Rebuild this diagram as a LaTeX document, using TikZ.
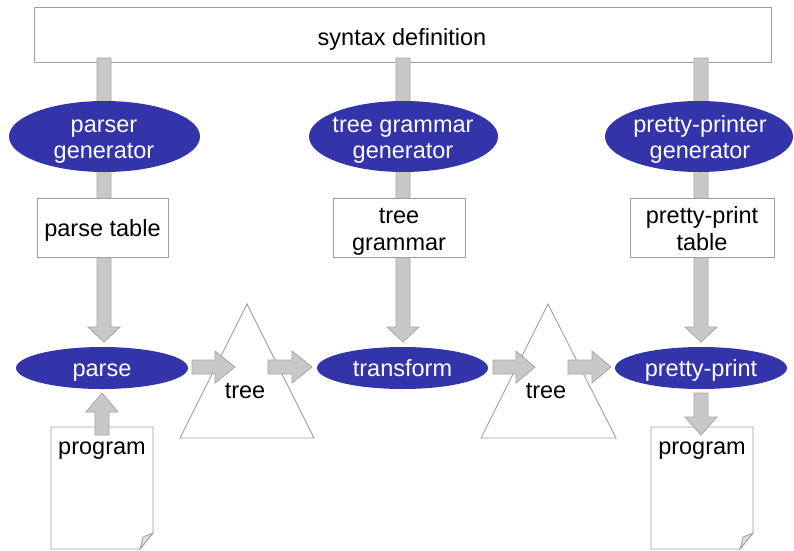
\documentclass[tikz,border=0pt]{standalone}
\usepackage{fontspec}
\setmainfont{Liberation Sans}
\usetikzlibrary{shapes.geometric}
\definecolor{ellblue}{HTML}{3333AA}
\definecolor{arrfill}{HTML}{C8C8C8}
\definecolor{arrline}{HTML}{A6A6A6}
\definecolor{boxline}{HTML}{A0A0A0}
\begin{document}
\begin{tikzpicture}[x=1pt,y=-1pt,
  every node/.style={font=\fontsize{23.5}{27}\selectfont},
  boxnode/.style={draw=boxline,fill=white,line width=0.9pt,inner sep=0pt},
  ellnode/.style={ellipse,fill=ellblue,inner sep=0pt},
  txt/.style={anchor=base,inner sep=0pt},
  wtxt/.style={anchor=base,inner sep=0pt,text=white},
  blockarrow/.style={fill=arrfill,draw=arrline,line width=0.8pt},
  plain/.style={draw=boxline,fill=white,line width=0.9pt},
  fold/.style={draw=boxline,fill=arrfill!60,line width=0.8pt}]
\useasboundingbox (0,0) rectangle (794,550);
% syntax definition box
\node[boxnode,minimum width=737pt,minimum height=55pt] (syn) at (402.5,34.5) {};
\node[txt] (syntxt) at (402,45) {syntax definition};
% triangles
\draw[plain] (247,304) -- (314,438) -- (180,438) -- cycle;
\node[txt] (tree1) at (245,398) {tree};
\draw[plain] (548,304) -- (616,438) -- (481,438) -- cycle;
\node[txt] (tree2) at (546,398) {tree};
% documents
\draw[plain] (51,427) -- (153,427) -- (153,533) -- (140,549) -- (51,549) -- cycle;
\draw[fold] (153,533) -- (140,549) -- (143,537) -- cycle;
\node[txt] (prog1) at (102,454) {program};
\draw[plain] (651,427) -- (753,427) -- (753,533) -- (740,549) -- (651,549) -- cycle;
\draw[fold] (753,533) -- (740,549) -- (743,537) -- cycle;
\node[txt] (prog2) at (702,454) {program};
% vertical arrows from syntax definition
\foreach \c in {104,403,701}{
  \draw[blockarrow] (\c-7,58) -- (\c+7,58) -- (\c+7,327) -- (\c+16,327) -- (\c,342) -- (\c-16,327) -- (\c-7,327) -- cycle;
}
% up arrow program -> parse
\draw[blockarrow] (95,435) -- (95,412) -- (86,412) -- (102,393) -- (118,412) -- (109,412) -- (109,435) -- cycle;
% down arrow pretty-print -> program
\draw[blockarrow] (694,393) -- (708,393) -- (708,417) -- (717,417) -- (701,435) -- (685,417) -- (694,417) -- cycle;
% horizontal arrows
\foreach \a/\h/\t in {192/215/235, 268/292/312, 493/516/535, 568/592/611}{
  \draw[blockarrow] (\a,360) -- (\h,360) -- (\h,351) -- (\t,367) -- (\h,383) -- (\h,374) -- (\a,374) -- cycle;
}
% generator ellipses
\node[ellnode,minimum width=191pt,minimum height=71pt] (pgen) at (104.5,136.5) {};
\node[wtxt] (pgen1) at (104,132) {parser};
\node[wtxt] (pgen2) at (104,158) {generator};
\node[ellnode,minimum width=189pt,minimum height=71pt] (tgen) at (403.5,136.5) {};
\node[wtxt] (tgen1) at (403,132) {tree grammar};
\node[wtxt] (tgen2) at (403,158) {generator};
\node[ellnode,minimum width=188pt,minimum height=71pt] (ppgen) at (699,136.5) {};
\node[wtxt] (ppgen1) at (700,132) {pretty-printer};
\node[wtxt] (ppgen2) at (700,158) {generator};
% intermediate boxes
\node[boxnode,minimum width=131pt,minimum height=59pt] (ptab) at (102.5,227.5) {};
\node[txt] (ptabt) at (102.5,236) {parse table};
\node[boxnode,minimum width=132pt,minimum height=59pt] (tgram) at (399,227.5) {};
\node[txt] (tgram1) at (399,223) {tree};
\node[txt] (tgram2) at (399,250) {grammar};
\node[boxnode,minimum width=144pt,minimum height=59pt] (pptab) at (702,227.5) {};
\node[txt] (pptab1) at (702,223) {pretty-print};
\node[txt] (pptab2) at (702,250) {table};
% process ellipses
\node[ellnode,minimum width=172pt,minimum height=42pt] (parse) at (102,368) {};
\node[wtxt] (parset) at (102,376) {parse};
\node[ellnode,minimum width=171pt,minimum height=42pt] (transform) at (402.5,368) {};
\node[wtxt] (transformt) at (402.5,376) {transform};
\node[ellnode,minimum width=172pt,minimum height=42pt] (pprint) at (701,368) {};
\node[wtxt] (pprintt) at (701,376) {pretty-print};
\end{tikzpicture}
\end{document}
